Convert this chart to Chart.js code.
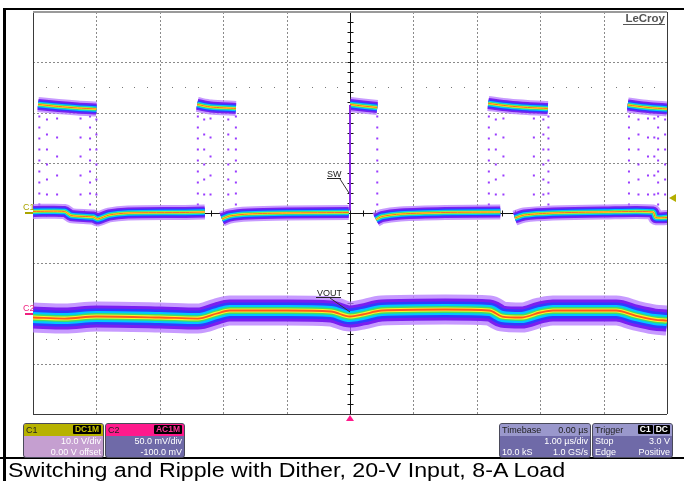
<!DOCTYPE html>
<html>
<head>
<meta charset="utf-8">
<script src="https://cdn.jsdelivr.net/npm/chart.js@4/dist/chart.umd.min.js"></script>
<style>
  html, body { margin: 0; padding: 0; background: #fff; }
  body { width: 684px; height: 481px; position: relative; overflow: hidden; font-family: Arial, "Liberation Sans", sans-serif; }
  #scope { position: absolute; left: 0; top: 0; }
  .frame { position: absolute; background: #000; }
  .panel { position: absolute; top: 423px; height: 35px; box-sizing: border-box; border: 1px solid #4a4a5a; border-radius: 3px; overflow: hidden; font-size: 9px; }
  .hd { height: 12px; line-height: 12px; padding: 0 2px; color: #222; }
  .badge { float: right; background: #000; height: 9px; line-height: 9px; margin-top: 1px; padding: 0 2px; font-weight: bold; font-size: 8.5px; border-radius: 1px; margin-left: 1px; }
  .row { line-height: 11px; padding: 0 2px; color: #fff; display: flex; justify-content: space-between; }
  .caption { position: absolute; left: 8px; top: 459px; font-size: 20px; line-height: 22px; color: #000; white-space: nowrap; transform: scaleX(1.16); transform-origin: 0 0; }
</style>
</head>
<body>
<canvas id="scope" width="684" height="481"></canvas>

<div class="frame" style="left:3px;top:8px;width:3px;height:473px"></div>
<div class="frame" style="left:3px;top:8px;width:681px;height:2px"></div>
<div class="frame" style="left:0;top:457px;width:684px;height:2px"></div>

<div class="panel" style="left:23px;width:81px;background:#c59fd0">
  <div class="hd" style="background:#b7b200">C1<span class="badge" style="color:#c8c200">DC1M</span></div>
  <div class="row"><span></span><span>10.0 V/div</span></div>
  <div class="row"><span></span><span>0.00 V offset</span></div>
</div>
<div class="panel" style="left:105px;width:80px;background:#6f6aa8">
  <div class="hd" style="background:#ff1a8c">C2<span class="badge" style="color:#ff3399">AC1M</span></div>
  <div class="row"><span></span><span>50.0 mV/div</span></div>
  <div class="row"><span></span><span>-100.0 mV</span></div>
</div>
<div class="panel" style="left:499px;width:92px;background:#6f6aa8">
  <div class="hd" style="background:#9a98cc;display:flex;justify-content:space-between"><span>Timebase</span><span>0.00 µs</span></div>
  <div class="row"><span></span><span>1.00 µs/div</span></div>
  <div class="row"><span>10.0 kS</span><span>1.0 GS/s</span></div>
</div>
<div class="panel" style="left:592px;width:81px;background:#6f6aa8">
  <div class="hd" style="background:#9a98cc">Trigger<span class="badge" style="color:#fff">DC</span><span class="badge" style="color:#fff">C1</span></div>
  <div class="row"><span>Stop</span><span>3.0 V</span></div>
  <div class="row"><span>Edge</span><span>Positive</span></div>
</div>

<div class="caption">Switching and Ripple with Dither, 20-V Input, 8-A Load</div>

<script>
// time in µs, C1 (SW) in volts, C2 (VOUT, AC) in mV. null = break in the trace
const swLowTimes = [-5, -4.5, -4.4, -4.05, -3.98, -3.8, -3.5, -2.6, -2.29, null,
  -2.02, -1.9, -1.6, -1.0, -0.02, null,
  0.41, 0.5, 0.8, 1.5, 2.37, null,
  2.60, 2.75, 3.2, 4.0, 4.78, 4.82, 5];
const swLowVolts = [0.3, 0.3, -0.5, -0.8, -1.2, -0.4, 0, 0.1, 0.2, null,
  -1.2, -0.6, -0.2, 0, 0.1, null,
  -1.3, -0.7, -0.2, 0.1, 0.2, null,
  -1.0, -0.4, 0, 0.2, 0.2, -0.9, -0.9];

const swHighTimes = [-4.92, -4.6, -4.3, -4.0, null,
  -2.41, -2.2, -1.80, null,
  0.0, 0.2, 0.43, null,
  2.18, 2.5, 2.8, 3.12, null,
  4.38, 4.7, 5];
const swHighVolts = [21.6, 21.2, 20.9, 20.7, null,
  21.6, 21.1, 20.8, null,
  21.6, 21.3, 21.0, null,
  21.8, 21.3, 21.0, 20.8, null,
  21.5, 21.0, 20.7];

// edges seen as sparse samples between the two levels, three groups
const sprayTimesA = [-4.9, -4.1, -2.4, -1.8, 0.43, 2.19, 3.13, 4.4, 4.86];
const sprayTimesB = [-4.78, -4.0, -2.3, -1.92, 2.3, 3.05, 4.55, 4.97];
const sprayTimesC = [-4.62, -4.25, -2.2, 2.42, 2.9, 4.7, 4.8];

const voutTimes = [-5, -4.5, -4.0, -3.0, -2.4, -2.1, -1.9, -1.0, -0.3, 0, 0.2, 0.5,
  1.5, 2.2, 2.4, 2.7, 3.0, 3.2, 4.2, 4.5, 4.8, 5];
const voutMv = [-4, -5, -3, -4, -5, 0, 3, 3, 2, -3, -1, 3,
  4, 3, -3, -4, 1, 3, 3, -2, -6, -7];

const triggerTime = 0;
const triggerLevel = 3.0;

function toPoints(ts, vs) {
  return ts.map(function (t, i) {
    if (t === null) return { x: ts[i - 1], y: null };
    return { x: t, y: vs[i] };
  });
}

function sprayPoints(ts) {
  const pts = [];
  ts.forEach(function (t) {
    pts.push({ x: t, y: 1.5 }, { x: t, y: 19.5 }, { x: t, y: null });
  });
  return pts;
}

const swLow = toPoints(swLowTimes, swLowVolts);
const swHigh = toPoints(swHighTimes, swHighVolts);
const swPts = swLow.concat([{ x: 5, y: null }], swHigh);
const voutPts = toPoints(voutTimes, voutMv);

// persistence colours, outermost first
const layers = [
  { c: 'rgba(180,120,255,0.75)', w: 15 },
  { c: '#7a1ff0', w: 11 },
  { c: '#2f3cff', w: 8 },
  { c: '#00c8ff', w: 5.5 },
  { c: '#3ee063', w: 3.4 },
  { c: '#fff22a', w: 2 },
  { c: '#ff5a1a', w: 0.9 }
];

const datasets = [];
layers.forEach(function (l, i) {
  datasets.push({
    data: swPts, yAxisID: 'y', borderColor: l.c, borderWidth: l.w,
    spanGaps: false, tension: 0.25, order: 100 - i, borderCapStyle: 'butt'
  });
  datasets.push({
    data: voutPts, yAxisID: 'y2', borderColor: l.c, borderWidth: l.w * 2,
    spanGaps: false, tension: 0.3, cubicInterpolationMode: 'monotone', order: 100 - i, borderCapStyle: 'butt'
  });
});
[[sprayTimesA, [2, 9], 0], [sprayTimesB, [2, 13], 5], [sprayTimesC, [2, 17], 9]].forEach(function (s) {
  datasets.push({
    data: sprayPoints(s[0]), yAxisID: 'y', borderColor: '#9a3cff', borderWidth: 2,
    borderDash: s[1], borderDashOffset: s[2], spanGaps: false, order: 200
  });
});
datasets.push({
  data: [{ x: triggerTime, y: 0.5 }, { x: triggerTime, y: 21.5 }],
  yAxisID: 'y', borderColor: '#8a2be2', borderWidth: 2, order: 1
});

const scopeGrid = {
  id: 'scopeGrid',
  beforeDatasetsDraw(chart) {
    const { ctx, chartArea: a } = chart;
    const x = chart.scales.x, y = chart.scales.y;
    ctx.save();
    ctx.lineWidth = 1;
    ctx.strokeStyle = '#8a8a8a';
    ctx.setLineDash([2, 2]);
    for (let t = -4; t <= 4; t++) {
      if (t === 0) continue;
      const px = Math.round(x.getPixelForValue(t)) + 0.5;
      ctx.beginPath(); ctx.moveTo(px, a.top); ctx.lineTo(px, a.bottom); ctx.stroke();
    }
    for (let d = -3; d <= 3; d++) {
      if (d === 0) continue;
      const py = Math.round(y.getPixelForValue(d * 10)) + 0.5;
      ctx.beginPath(); ctx.moveTo(a.left, py); ctx.lineTo(a.right, py); ctx.stroke();
    }
    ctx.setLineDash([]);
    // dot rows
    ctx.fillStyle = '#777';
    [25, -25].forEach(function (v) {
      const py = Math.round(y.getPixelForValue(v));
      for (let t = -5; t <= 5.001; t += 0.2) {
        if (Math.abs(t - Math.round(t)) < 0.01) continue;
        ctx.fillRect(Math.round(x.getPixelForValue(t)), py, 1, 1);
      }
    });
    // center axes with minor ticks
    const cx = Math.round(x.getPixelForValue(0)) + 0.5;
    const cy = Math.round(y.getPixelForValue(0)) + 0.5;
    ctx.strokeStyle = '#111';
    ctx.beginPath(); ctx.moveTo(cx, a.top); ctx.lineTo(cx, a.bottom);
    ctx.moveTo(a.left, cy); ctx.lineTo(a.right, cy); ctx.stroke();
    ctx.beginPath();
    for (let t = -5; t <= 5.001; t += 0.2) {
      const px = Math.round(x.getPixelForValue(t)) + 0.5;
      ctx.moveTo(px, cy - 3); ctx.lineTo(px, cy + 3);
    }
    for (let v = -40; v <= 40.001; v += 2) {
      const py = Math.round(y.getPixelForValue(v)) + 0.5;
      ctx.moveTo(cx - 3, py); ctx.lineTo(cx + 3, py);
    }
    ctx.stroke();
    // border
    ctx.strokeStyle = '#3a3a3a';
    ctx.beginPath();
    ctx.moveTo(a.left + 0.5, a.top); ctx.lineTo(a.left + 0.5, a.bottom);
    ctx.moveTo(a.right + 0.5, a.top); ctx.lineTo(a.right + 0.5, a.bottom);
    ctx.moveTo(a.left, a.bottom + 0.5); ctx.lineTo(a.right, a.bottom + 0.5);
    ctx.stroke();
    ctx.strokeStyle = '#9a9a9a';
    ctx.lineWidth = 2;
    ctx.beginPath(); ctx.moveTo(a.left, a.top); ctx.lineTo(a.right, a.top); ctx.stroke();
    ctx.restore();
  },
  afterDraw(chart) {
    const { ctx, chartArea: a } = chart;
    const x = chart.scales.x, y = chart.scales.y, y2 = chart.scales.y2;
    ctx.save();
    ctx.font = '9px Arial, "Liberation Sans", sans-serif';
    ctx.textBaseline = 'alphabetic';
    // channel markers
    const c1y = Math.round(y.getPixelForValue(0));
    const c2y = Math.round(y2.getPixelForValue(0));
    ctx.fillStyle = '#aaa400';
    ctx.fillText('C1', 23, c1y - 3);
    ctx.fillRect(25, c1y - 1, 8, 2);
    ctx.fillStyle = '#f0207f';
    ctx.fillText('C2', 23, c2y - 3);
    ctx.fillRect(25, c2y - 1, 8, 2);
    // trace labels
    ctx.fillStyle = '#222';
    ctx.strokeStyle = '#333';
    ctx.lineWidth = 1;
    const cx = x.getPixelForValue(0);
    ctx.fillText('SW', 327, 177);
    ctx.fillRect(327, 178, 14, 1);
    ctx.beginPath(); ctx.moveTo(340, 179); ctx.lineTo(cx - 1, 193); ctx.stroke();
    ctx.fillText('VOUT', 317, 296);
    ctx.fillRect(316, 297, 25, 1);
    ctx.beginPath(); ctx.moveTo(330, 298); ctx.lineTo(cx, 312); ctx.stroke();
    // LeCroy logo
    ctx.fillStyle = '#555';
    ctx.font = 'bold 11.5px Arial, "Liberation Sans", sans-serif';
    ctx.textAlign = 'right';
    ctx.fillText('LeCroy', a.right - 2, a.top + 10);
    ctx.fillRect(a.right - 44, a.top + 12, 42, 1);
    // trigger markers
    const ty = y.getPixelForValue(triggerLevel);
    ctx.fillStyle = '#b4ae00';
    ctx.beginPath(); ctx.moveTo(a.right + 2, ty); ctx.lineTo(a.right + 9, ty - 4); ctx.lineTo(a.right + 9, ty + 4); ctx.closePath(); ctx.fill();
    const tx = x.getPixelForValue(triggerTime);
    ctx.fillStyle = '#ff1a8c';
    ctx.beginPath(); ctx.moveTo(tx, a.bottom + 1); ctx.lineTo(tx - 4, a.bottom + 7); ctx.lineTo(tx + 4, a.bottom + 7); ctx.closePath(); ctx.fill();
    ctx.restore();
  }
};

const chart = new Chart(document.getElementById('scope').getContext('2d'), {
  type: 'line',
  data: { datasets: datasets },
  options: {
    responsive: false,
    animation: false,
    devicePixelRatio: 1,
    layout: { padding: { left: 33, right: 17, top: 12, bottom: 67 } },
    elements: { point: { radius: 0 } },
    scales: {
      x: { type: 'linear', min: -5, max: 5, display: false },
      y: { min: -40, max: 40, display: false },
      y2: { min: -100, max: 300, display: false }
    },
    plugins: { legend: { display: false }, tooltip: { enabled: false } }
  },
  plugins: [scopeGrid]
});
</script>
</body>
</html>
